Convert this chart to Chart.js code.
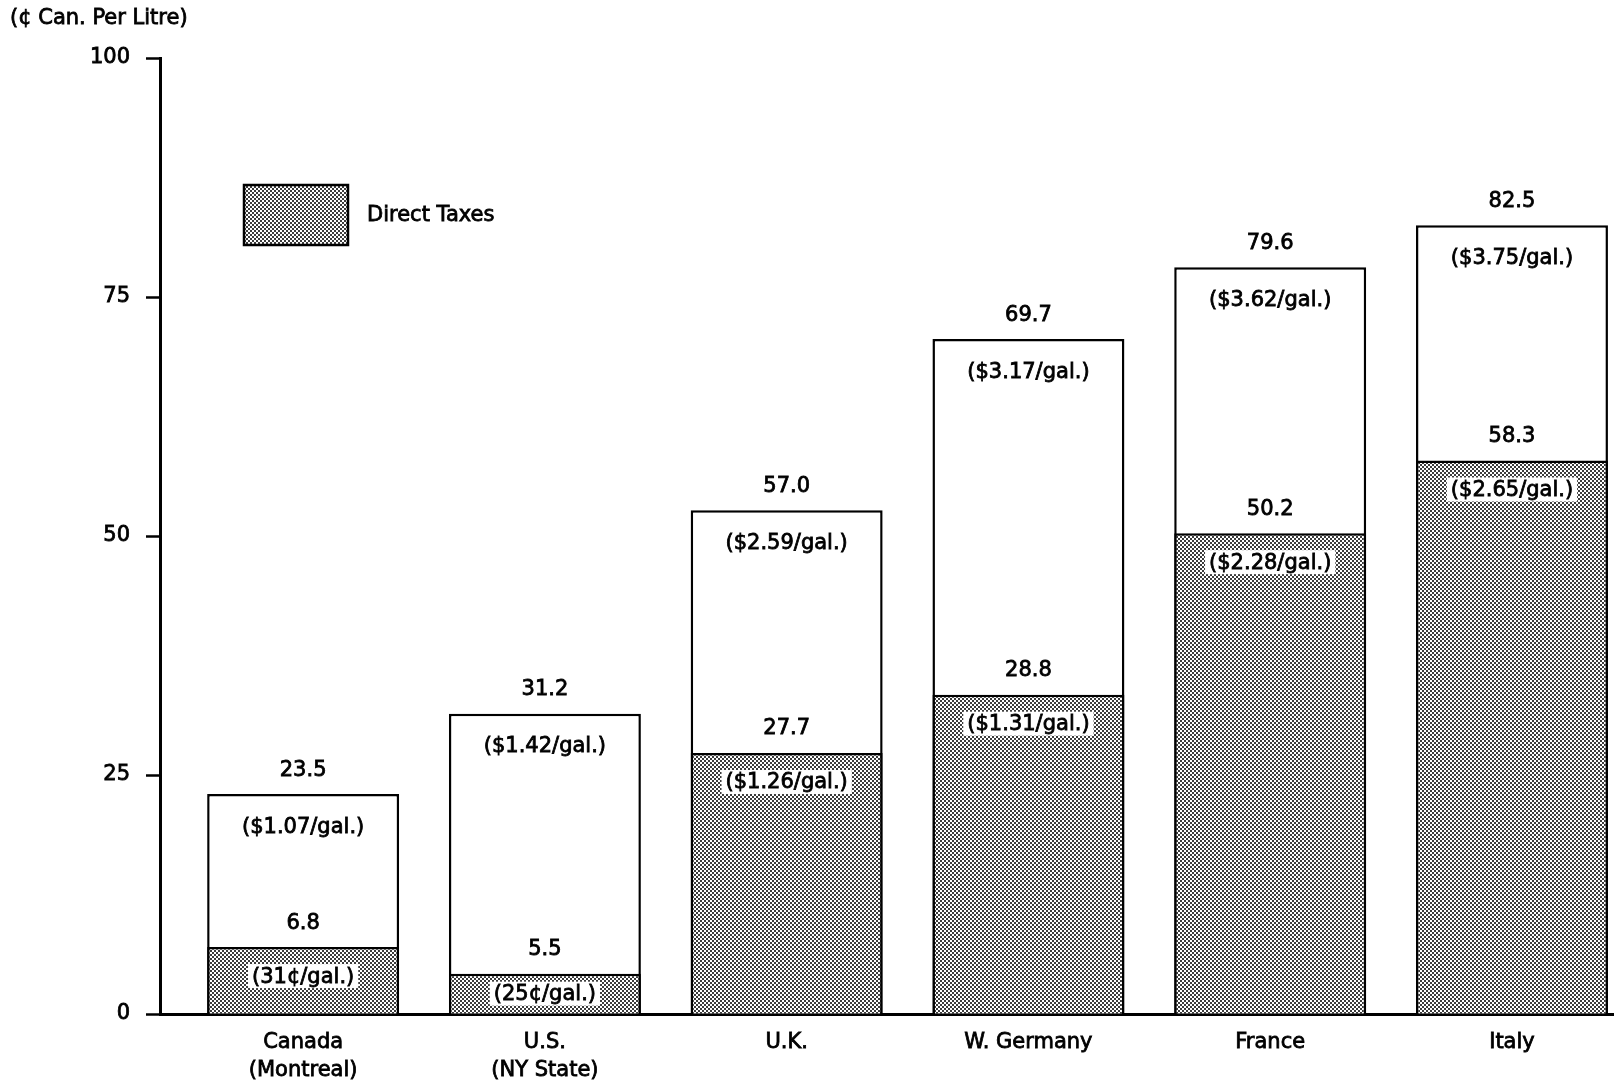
<!DOCTYPE html>
<html>
<head>
<meta charset="utf-8">
<title>Gasoline prices and direct taxes</title>
<script src="https://cdn.jsdelivr.net/npm/chart.js@4.4.0/dist/chart.umd.min.js"></script>
<style>
  html, body { margin: 0; padding: 0; background: #fff; overflow: hidden; }
  canvas { display: block; }
</style>
</head>
<body>
<canvas id="chart" width="1614" height="1083"></canvas>
<script>
  "use strict";

  // Countries (x axis, multi-line where the original wraps)
  const countries = [
    ["Canada", "(Montreal)"],
    ["U.S.", "(NY State)"],
    ["U.K."],
    ["W. Germany"],
    ["France"],
    ["Italy"],
  ];

  // Bar heights as drawn (cents Can. per litre)
  const totalPrice = [23.0, 31.4, 52.7, 70.6, 78.1, 82.5];
  const directTaxes = [7.0, 4.2, 27.3, 33.4, 50.3, 57.9];

  // Printed figures
  const totalText = ["23.5", "31.2", "57.0", "69.7", "79.6", "82.5"];
  const totalGallon = ["($1.07/gal.)", "($1.42/gal.)", "($2.59/gal.)", "($3.17/gal.)", "($3.62/gal.)", "($3.75/gal.)"];
  const taxText = ["6.8", "5.5", "27.7", "28.8", "50.2", "58.3"];
  const taxGallon = ["(31¢/gal.)", "(25¢/gal.)", "($1.26/gal.)", "($1.31/gal.)", "($2.28/gal.)", "($2.65/gal.)"];

  const yTicks = [0, 25, 50, 75, 100];

  const FONT_FAMILY = '"DejaVu Sans", "Liberation Sans", sans-serif';
  const FONT = "21px " + FONT_FAMILY;
  const INK = 0.8; // extra stroke so the type reads as heavy as the print

  // Stipple used for the tax portion
  function makeStipple() {
    const tile = document.createElement("canvas");
    tile.width = 4;
    tile.height = 4;
    const t = tile.getContext("2d");
    t.fillStyle = "#fff";
    t.fillRect(0, 0, 4, 4);
    t.fillStyle = "#1a1a1a";
    t.globalAlpha = 0.85;
    t.fillRect(0, 0, 2, 2);
    t.fillRect(2, 2, 2, 2);
    return t.createPattern(tile, "repeat");
  }

  function inkText(c, text, x, y) {
    c.lineWidth = INK;
    c.strokeStyle = "#000";
    c.strokeText(text, x, y);
    c.fillText(text, x, y);
  }

  const ctx = document.getElementById("chart").getContext("2d");
  const stipple = makeStipple();

  // Axis caption + legend box
  const decorations = {
    id: "decorations",
    afterDraw(chart) {
      const c = chart.ctx;
      c.save();
      c.font = FONT;
      c.fillStyle = "#000";
      c.textAlign = "left";
      c.textBaseline = "middle";
      inkText(c, "(¢ Can. Per Litre)", 10, 19);

      // legend
      c.fillStyle = stipple;
      c.fillRect(244, 185, 104, 60);
      c.lineWidth = 2.5;
      c.strokeStyle = "#000";
      c.strokeRect(244, 185, 104, 60);
      c.fillStyle = "#000";
      inkText(c, "Direct Taxes", 367, 216);
      c.restore();
    },
  };

  // Figures printed on and above the bars
  const barLabels = {
    id: "barLabels",
    afterDatasetsDraw(chart) {
      const c = chart.ctx;
      const taxMeta = chart.getDatasetMeta(0);
      const totalMeta = chart.getDatasetMeta(1);
      c.save();
      c.font = FONT;
      c.textAlign = "center";
      c.textBaseline = "middle";
      totalMeta.data.forEach((bar, i) => {
        const tax = taxMeta.data[i];
        c.fillStyle = "#000";
        inkText(c, totalText[i], bar.x, bar.y - 24);
        inkText(c, totalGallon[i], bar.x, bar.y + 33);
        inkText(c, taxText[i], tax.x, tax.y - 24);

        // per-gallon tax figure sits on a white patch over the stipple
        const h = tax.base - tax.y;
        const cy = tax.y + Math.min(29, h / 2);
        const w = c.measureText(taxGallon[i]).width + 8;
        c.fillStyle = "#fff";
        c.fillRect(tax.x - w / 2, cy - 12, w, 24);
        c.fillStyle = "#000";
        inkText(c, taxGallon[i], tax.x, cy + 1);
      });
      c.restore();
    },
  };

  new Chart(ctx, {
    type: "bar",
    data: {
      datasets: [
        {
          label: "Direct Taxes",
          data: directTaxes.map((v, i) => ({ x: i, y: v })),
          backgroundColor: stipple,
          borderColor: "#000",
          borderWidth: 2.5,
        },
        {
          label: "Total",
          data: totalPrice.map((v, i) => ({ x: i, y: v })),
          backgroundColor: "#fff",
          borderColor: "#000",
          borderWidth: 2.5,
        },
      ],
    },
    options: {
      responsive: false,
      animation: false,
      layout: { padding: { left: 0, right: 0, top: 58, bottom: 0 } },
      datasets: {
        bar: { grouped: false, categoryPercentage: 1, barPercentage: 0.794 },
      },
      plugins: {
        legend: { display: false },
        tooltip: { enabled: false },
      },
      scales: {
        x: {
          type: "linear",
          offset: false,
          min: -0.592,
          max: 5.422,
          grid: { display: false, drawTicks: false },
          border: { display: true, color: "#000", width: 3 },
          ticks: {
            stepSize: 1,
            includeBounds: false,
            autoSkip: false,
            maxRotation: 0,
            padding: 14,
            color: "#000",
            textStrokeColor: "#000",
            textStrokeWidth: INK,
            font: { family: FONT_FAMILY, size: 21, lineHeight: 1.36 },
            callback: (v) => (Number.isInteger(v) && countries[v] ? countries[v] : ""),
          },
          afterFit: (scale) => {
            scale.height = 69;
          },
        },
        y: {
          min: 0,
          max: 100,
          afterBuildTicks: (scale) => {
            scale.ticks = yTicks.map((v) => ({ value: v }));
          },
          grid: {
            drawOnChartArea: false,
            drawTicks: true,
            tickLength: 14,
            tickWidth: 2.5,
            color: "#000",
          },
          border: { display: true, color: "#000", width: 3 },
          ticks: {
            padding: 16,
            color: "#000",
            textStrokeColor: "#000",
            textStrokeWidth: INK,
            font: { family: FONT_FAMILY, size: 21 },
          },
          afterFit: (scale) => {
            scale.width = 160;
          },
        },
      },
    },
    plugins: [barLabels, decorations],
  });
</script>
</body>
</html>
